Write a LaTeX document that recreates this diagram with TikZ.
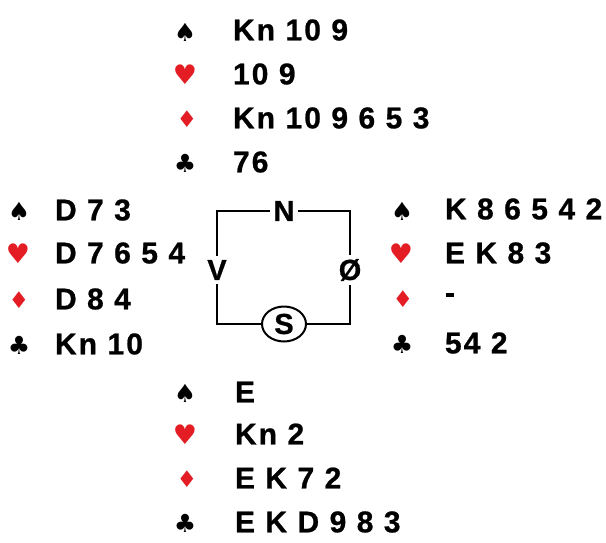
\documentclass[tikz,border=0pt]{standalone}
\usepackage{fontspec}
\setmainfont{Liberation Sans}[LetterSpace=7, BoldFeatures={FakeBold=0.8}]
\newfontfamily\suitfont{DejaVu Sans}
\usetikzlibrary{shapes.geometric}
\definecolor{suitred}{RGB}{228,28,36}
\newcommand{\sSpade}{{\suitfont\fontsize{25}{25}\selectfont ♠}}
\newcommand{\sHeart}{{\suitfont\fontsize{27}{27}\selectfont\color{suitred}♥}}
\newcommand{\sDiam}{{\suitfont\fontsize{23}{23}\selectfont\color{suitred}♦}}
\newcommand{\sClub}{{\suitfont\fontsize{25}{25}\selectfont ♣}}

\begin{document}
\begin{tikzpicture}[x=1pt, y=-1pt, line width=2pt]
\tikzset{cards/.style={anchor=west, inner sep=0pt, font=\fontsize{30}{32}\selectfont\bfseries},
	suit/.style={inner sep=0pt},
	seat/.style={inner sep=3pt, font=\fontsize{29}{31}\selectfont\bfseries}}
\useasboundingbox (0,0) rectangle (606,542);
% Nord
\node[suit] (nS) at (185,32) {\sSpade};
\node[suit] (nH) at (185,75) {\sHeart};
\node[suit] (nD) at (187,119) {\sDiam};
\node[suit] (nC) at (185,163) {\sClub};
\node[cards] (nSc) at (232,30) {Kn 10 9};
\node[cards] (nHc) at (232,74) {10 9};
\node[cards] (nDc) at (232,118) {Kn 10 9 6 5 3};
\node[cards] (nCc) at (232,162) {76};
% Vest
\node[suit] (vS) at (19,211) {\sSpade};
\node[suit] (vH) at (18,254) {\sHeart};
\node[suit] (vD) at (19,300) {\sDiam};
\node[suit] (vC) at (19,345) {\sClub};
\node[cards] (vSc) at (54,210) {D 7 3};
\node[cards] (vHc) at (54,253) {D 7 6 5 4};
\node[cards] (vDc) at (54,299) {D 8 4};
\node[cards] (vCc) at (54,344) {Kn 10};
% Øst
\node[suit] (oS) at (402,211) {\sSpade};
\node[suit] (oH) at (401,254) {\sHeart};
\node[suit] (oD) at (403,299) {\sDiam};
\node[suit] (oC) at (402,344) {\sClub};
\node[cards] (oSc) at (444,209) {K 8 6 5 4 2};
\node[cards] (oHc) at (444,253) {E K 8 3};
\node[cards] (oDc) at (444,298) {-};
\node[cards] (oCc) at (444,343) {54 2};
% Syd
\node[suit] (sS) at (185,393) {\sSpade};
\node[suit] (sH) at (185,435) {\sHeart};
\node[suit] (sD) at (187,479) {\sDiam};
\node[suit] (sC) at (185,523) {\sClub};
\node[cards] (sSc) at (234,392) {E};
\node[cards] (sHc) at (234,434) {Kn 2};
\node[cards] (sDc) at (234,478) {E K 7 2};
\node[cards] (sCc) at (234,522) {E K D 9 8 3};
% bord
\node[seat] (N) at (284,211) {N};
\node[seat] (V) at (217,270) {V};
\node[seat] (O) at (350,270) {Ø};
\node[draw, ellipse, inner sep=0pt, minimum width=44, minimum height=35, font=\fontsize{29}{31}\selectfont\bfseries] (S) at (284,324) {S};
\draw (N) -| (V);
\draw (V) |- (S);
\draw (S) -| (O);
\draw (O) |- (N);
\end{tikzpicture}
\end{document}
